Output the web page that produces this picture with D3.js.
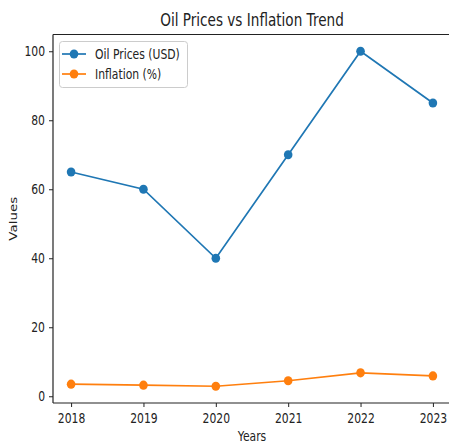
<!DOCTYPE html>
<html><head><meta charset="utf-8">
<script src="https://cdn.jsdelivr.net/npm/d3@7"></script>
<style>body{margin:0;background:#fff}svg{display:block}text{font-family:"DejaVu Sans",sans-serif;fill:#222}</style>
</head><body>
<svg id="c" width="449" height="443"></svg>
<script>
const years = [2018, 2019, 2020, 2021, 2022, 2023];
const oilPrices = [65, 60, 40, 70, 100, 85];
const inflation = [3.5, 3.2, 2.9, 4.5, 6.8, 5.9];
const yTicks = [0, 20, 40, 60, 80, 100];
const seriesNames = ["Oil Prices (USD)", "Inflation (%)"];
const colors = ["#1f77b4", "#ff7f0e"];

const SX = 0.8;
const svg = d3.select("#c");
const L = 53, R = 451, T = 34.5, B = 403;
const x = d3.scaleLinear().domain([2018 - 0.25, 2023 + 0.25]).range([L, R]);
const allV = oilPrices.concat(inflation);
const vmin = d3.min(allV), vmax = d3.max(allV), pad = (vmax - vmin) * 0.05;
const y = d3.scaleLinear().domain([vmin - pad, vmax + pad]).range([B, T]);

function squeeze(sel) {
  sel.each(function () {
    const t = d3.select(this);
    const tx = +t.attr("x") || 0;
    t.attr("x", 0).attr("transform", `translate(${tx},0) scale(${SX},1)`);
  });
}

// series
const series = [oilPrices, inflation];
series.forEach((vals, i) => {
  const pts = years.map((yr, j) => [yr, vals[j]]);
  svg.append("path").datum(pts)
    .attr("fill", "none").attr("stroke", colors[i]).attr("stroke-width", 1.7)
    .attr("d", d3.line().x(d => x(d[0])).y(d => y(d[1])));
  svg.selectAll(null).data(pts).enter().append("ellipse")
    .attr("cx", d => x(d[0])).attr("cy", d => y(d[1]))
    .attr("rx", 4.3).attr("ry", 4.6).attr("fill", colors[i]);
});

// axes
const gx = svg.append("g").attr("transform", `translate(0,${B})`)
  .call(d3.axisBottom(x).tickValues(years).tickFormat(d3.format("d")).tickSize(4).tickPadding(6));
const gy = svg.append("g").attr("transform", `translate(${L},0)`)
  .call(d3.axisLeft(y).tickValues(yTicks).tickSize(4).tickPadding(4));
[gx, gy].forEach(g => {
  g.select(".domain").remove();
  g.selectAll(".tick line").attr("stroke", "#222").attr("stroke-width", 1);
  g.selectAll("text").attr("font-size", 13.5).attr("font-family", "DejaVu Sans").attr("fill", "#222");
});
squeeze(gy.selectAll("text"));
gx.selectAll("text").attr("transform", `scale(${SX},1)`);

// spines
svg.append("line").attr("x1", L).attr("x2", L).attr("y1", T).attr("y2", B).attr("stroke", "#222").attr("stroke-width", 1.2);
svg.append("line").attr("x1", L).attr("x2", R).attr("y1", B).attr("y2", B).attr("stroke", "#222").attr("stroke-width", 1.2);
svg.append("line").attr("x1", L).attr("x2", R).attr("y1", T).attr("y2", T).attr("stroke", "#222").attr("stroke-width", 1.2);
svg.append("line").attr("x1", R).attr("x2", R).attr("y1", T).attr("y2", B).attr("stroke", "#222").attr("stroke-width", 1.2);

// title and labels
svg.append("text").attr("transform", `translate(${(L + R) / 2},26) scale(${SX},1)`)
  .attr("text-anchor", "middle").attr("font-size", 17).text("Oil Prices vs Inflation Trend");
svg.append("text").attr("transform", `translate(${(L + R) / 2},441) scale(${SX},1)`)
  .attr("text-anchor", "middle").attr("font-size", 13.5).text("Years");
svg.append("text").attr("transform", `translate(17,${(T + B) / 2}) rotate(-90) scale(1,${SX})`)
  .attr("text-anchor", "middle").attr("font-size", 13.5).text("Values");

// legend
const lg = svg.append("g");
lg.append("rect").attr("x", 59.5).attr("y", 41.5).attr("width", 128).attr("height", 46).attr("rx", 3)
  .attr("fill", "#fff").attr("fill-opacity", 0.8).attr("stroke", "#ccc");
seriesNames.forEach((n, i) => {
  const yy = 54 + i * 20;
  lg.append("line").attr("x1", 62).attr("x2", 86).attr("y1", yy).attr("y2", yy).attr("stroke", colors[i]).attr("stroke-width", 1.7);
  lg.append("ellipse").attr("cx", 74).attr("cy", yy).attr("rx", 4.3).attr("ry", 4.6).attr("fill", colors[i]);
  lg.append("text").attr("transform", `translate(95,${yy + 5}) scale(${SX},1)`).attr("font-size", 13.5).text(n);
});
</script>
</body></html>
